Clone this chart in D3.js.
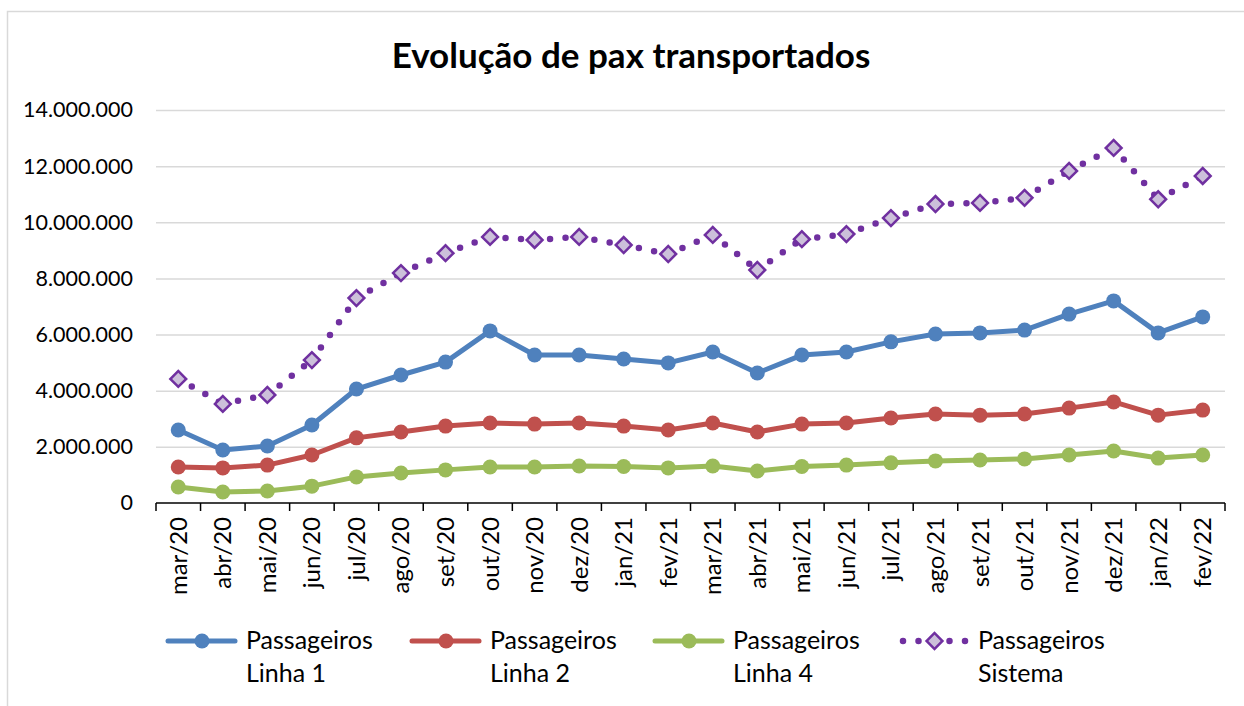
<!DOCTYPE html>
<html>
<head>
<meta charset="utf-8">
<script src="https://cdn.jsdelivr.net/npm/d3@7"></script>
<style>
  body { margin: 0; background: #fff; }
  svg { display: block; font-family: Lato, "Open Sans", sans-serif; }
</style>
</head>
<body>
<svg></svg>
<script>
// data
const months = ["mar/20", "abr/20", "mai/20", "jun/20", "jul/20", "ago/20", "set/20", "out/20",
    "nov/20", "dez/20", "jan/21", "fev/21", "mar/21", "abr/21", "mai/21", "jun/21",
    "jul/21", "ago/21", "set/21", "out/21", "nov/21", "dez/21", "jan/22", "fev/22"];
const linha1 = [2600000, 1890000, 2030000, 2780000, 4060000, 4560000, 5020000, 6130000,
    5270000, 5270000, 5130000, 4990000, 5380000, 4630000, 5270000, 5380000,
    5740000, 6020000, 6060000, 6160000, 6730000, 7200000, 6060000, 6630000];
const linha2 = [1280000, 1250000, 1350000, 1710000, 2320000, 2530000, 2740000, 2850000,
    2810000, 2850000, 2740000, 2600000, 2850000, 2530000, 2810000, 2850000,
    3030000, 3170000, 3130000, 3170000, 3380000, 3600000, 3130000, 3310000];
const linha4 = [570000, 390000, 430000, 600000, 930000, 1070000, 1180000, 1280000,
    1280000, 1320000, 1300000, 1250000, 1320000, 1140000, 1300000, 1350000,
    1430000, 1500000, 1530000, 1570000, 1710000, 1850000, 1600000, 1710000];
const sistema = [4420000, 3530000, 3850000, 5090000, 7300000, 8190000, 8900000, 9480000,
    9370000, 9480000, 9190000, 8870000, 9550000, 8300000, 9400000, 9580000,
    10150000, 10650000, 10690000, 10870000, 11830000, 12650000, 10820000, 11650000];
const yTicks = [0, 2000000, 4000000, 6000000, 8000000, 10000000, 12000000, 14000000];
const seriesNames = ["Linha 1", "Linha 2", "Linha 4", "Sistema"];

const width = 1244, height = 706;
const plotL = 156, plotR = 1225, plotT = 110, plotB = 503;

const svg = d3.select("svg").attr("width", width).attr("height", height);

// outer chart border
svg.append("rect")
    .attr("x", 7.5).attr("y", 11.5)
    .attr("width", 1250).attr("height", 710)
    .attr("fill", "none").attr("stroke", "#d9d9d9").attr("stroke-width", 1.5);

// title
svg.append("text")
    .attr("x", 631).attr("y", 68)
    .attr("text-anchor", "middle")
    .attr("font-size", 35).attr("font-weight", "bold")
    .attr("fill", "#000")
    .text("Evolução de pax transportados");

const x = d3.scaleBand().domain(months).range([plotL, plotR]);
const cx = (d) => x(d) + x.bandwidth() / 2;
const y = d3.scaleLinear().domain([0, 14000000]).range([plotB, plotT]);

const ptBR = d3.formatLocale({ decimal: ",", thousands: ".", grouping: [3], currency: ["R$", ""] });

// y axis with gridlines
const yAxis = svg.append("g")
    .attr("transform", `translate(${plotL}, 0)`)
    .call(d3.axisLeft(y).tickValues(yTicks).tickSize(-(plotR - plotL)).tickPadding(23)
        .tickFormat(ptBR.format(",d")));
yAxis.select(".domain").remove();
yAxis.selectAll("line").attr("stroke", "#d9d9d9").attr("stroke-width", 1.5)
    .filter((d) => d === 0).remove();
yAxis.selectAll("text").attr("font-size", 21.5).attr("fill", "#000").attr("font-family", "Lato, sans-serif");

// x axis: line, boundary ticks, rotated labels
const xg = svg.append("g");
xg.append("line")
    .attr("x1", plotL).attr("x2", plotR)
    .attr("y1", plotB).attr("y2", plotB)
    .attr("stroke", "#000").attr("stroke-width", 1.5);
xg.selectAll(".tk")
    .data(months.concat(["end"]))
    .enter()
    .append("line")
    .attr("x1", (d) => d === "end" ? plotR : x(d))
    .attr("x2", (d) => d === "end" ? plotR : x(d))
    .attr("y1", plotB).attr("y2", plotB + 8)
    .attr("stroke", "#000").attr("stroke-width", 1.5);
xg.selectAll(".lbl")
    .data(months)
    .enter()
    .append("text")
    .attr("transform", (d) => `translate(${cx(d) + 8.5}, ${plotB + 14}) rotate(-90)`)
    .attr("text-anchor", "end")
    .attr("font-size", 24)
    .attr("fill", "#000")
    .text((d) => d);

// solid series
const solid = [
    { values: linha1, color: "#4f81bd" },
    { values: linha2, color: "#c0504d" },
    { values: linha4, color: "#9bbb59" }
];
const line = d3.line().x((d, i) => cx(months[i])).y((d) => y(d));

solid.forEach((s) => {
    svg.append("path")
        .attr("d", line(s.values))
        .attr("fill", "none")
        .attr("stroke", s.color)
        .attr("stroke-width", 5)
        .attr("stroke-linejoin", "round");
    svg.selectAll(null)
        .data(s.values)
        .enter()
        .append("circle")
        .attr("cx", (d, i) => cx(months[i]))
        .attr("cy", (d) => y(d))
        .attr("r", 7.5)
        .attr("fill", s.color);
});

// Sistema: round dots, dash restarting each segment
const purple = "#7030a0";
const segs = d3.pairs(sistema.map((d, i) => [cx(months[i]), y(d)]));
svg.selectAll(null)
    .data(segs)
    .enter()
    .append("line")
    .attr("x1", (d) => d[0][0]).attr("y1", (d) => d[0][1])
    .attr("x2", (d) => d[1][0]).attr("y2", (d) => d[1][1])
    .attr("stroke", purple)
    .attr("stroke-width", 6.5)
    .attr("stroke-linecap", "round")
    .attr("stroke-dasharray", "0 15.5");
svg.selectAll(null)
    .data(sistema)
    .enter()
    .append("path")
    .attr("d", d3.symbol().type(d3.symbolSquare).size(125))
    .attr("transform", (d, i) => `translate(${cx(months[i])}, ${y(d)}) rotate(45)`)
    .attr("fill", "#ccc0da")
    .attr("stroke", purple)
    .attr("stroke-width", 2.5);

// legend
const legX = [168, 412, 655, 900];
const legColors = ["#4f81bd", "#c0504d", "#9bbb59", purple];
const leg = svg.selectAll(".leg")
    .data(seriesNames)
    .enter()
    .append("g")
    .attr("transform", (d, i) => `translate(${legX[i]}, 641)`);
leg.each(function(d, i) {
    const g = d3.select(this);
    if (i < 3) {
        g.append("line").attr("x1", 0).attr("x2", 67).attr("y1", 0).attr("y2", 0)
            .attr("stroke", legColors[i]).attr("stroke-width", 5).attr("stroke-linecap", "round");
        g.append("circle").attr("cx", 34).attr("cy", 0).attr("r", 7.5).attr("fill", legColors[i]);
    } else {
        g.append("line").attr("x1", 3).attr("x2", 66).attr("y1", 0).attr("y2", 0)
            .attr("stroke", purple).attr("stroke-width", 6.5).attr("stroke-linecap", "round")
            .attr("stroke-dasharray", "0 15.5");
        g.append("path").attr("d", d3.symbol().type(d3.symbolSquare).size(125))
            .attr("transform", "translate(34.5, 0) rotate(45)")
            .attr("fill", "#ccc0da").attr("stroke", purple).attr("stroke-width", 2.5);
    }
    const t = g.append("text").attr("x", 78).attr("y", 8).attr("font-size", 25).attr("fill", "#000");
    t.append("tspan").text("Passageiros");
    t.append("tspan").attr("x", 78).attr("dy", 33).text(d);
});
</script>
</body>
</html>
